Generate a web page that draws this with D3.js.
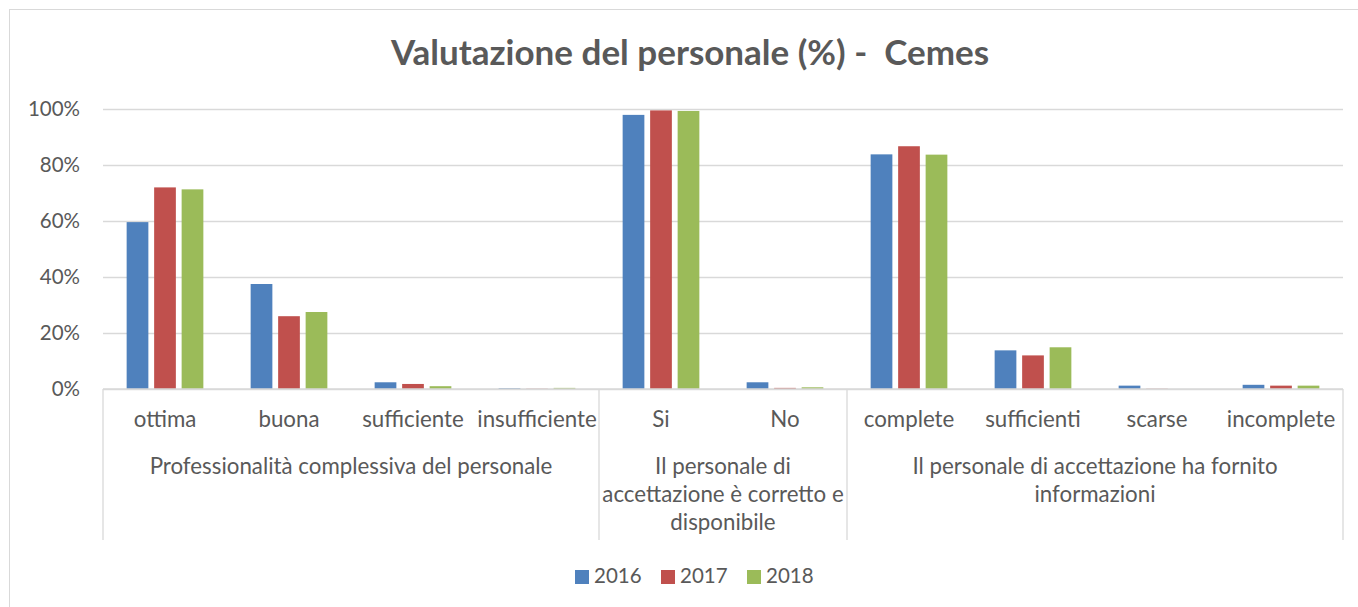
<!DOCTYPE html>
<html>
<head>
<meta charset="utf-8">
<script src="https://cdn.jsdelivr.net/npm/d3@7"></script>
<style>
  body { margin: 0; background: #fff; }
  svg { display: block; font-family: Lato, "Open Sans", sans-serif; }
</style>
</head>
<body>
<div id="chart"></div>
<script>
// data
const years = ['2016', '2017', '2018'];
const categories = ['ottima', 'buona', 'sufficiente', 'insufficiente', 'Si', 'No',
  'complete', 'sufficienti', 'scarse', 'incomplete'];
const values2016 = [59.6, 37.5, 2.4, 0.3, 97.9, 2.4, 83.8, 13.8, 1.2, 1.5];
const values2017 = [72.0, 26.0, 1.8, 0.1, 99.5, 0.4, 86.7, 12.0, 0.1, 1.2];
const values2018 = [71.3, 27.5, 1.0, 0.4, 99.3, 0.6, 83.7, 14.9, 0.0, 1.2];
const groupLabels = [
  ['Professionalità complessiva del personale'],
  ['Il personale di', 'accettazione è corretto e', 'disponibile'],
  ['Il personale di accettazione ha fornito', 'informazioni']
];
const groupSizes = [4, 2, 4];
const yTicks = [0, 20, 40, 60, 80, 100];
const title = 'Valutazione del personale (%) -  Cemes';

const colors = ['#4F81BD', '#C0504D', '#9BBB59'];
const textColor = '#595959';
const gridColor = '#D9D9D9';

const width = 1358;
const height = 607;
const plot = { left: 103, right: 1343, top: 109, bottom: 389 };
const labelSize = '22.3px';

const series = [values2016, values2017, values2018];
const rows = categories.map((c, i) => ({
  category: c,
  values: years.map((y, j) => ({ year: y, value: series[j][i] }))
}));

const svg = d3.select('#chart')
  .append('svg')
  .attr('width', width)
  .attr('height', height);

// chart area border (right / bottom edges run off the picture)
svg.append('rect')
  .attr('x', 9.5)
  .attr('y', 9.5)
  .attr('width', 1400)
  .attr('height', 700)
  .attr('fill', '#fff')
  .attr('stroke', gridColor);

svg.append('text')
  .attr('x', 690)
  .attr('y', 65)
  .attr('text-anchor', 'middle')
  .attr('fill', textColor)
  .style('font-size', '35px')
  .style('font-weight', 700)
  .style('white-space', 'pre')
  .text(title);

const x0 = d3.scaleBand()
  .domain(categories)
  .range([plot.left, plot.right])
  .padding(0);

const x1 = d3.scaleBand()
  .domain(years)
  .range([0, x0.bandwidth()])
  .paddingInner(0.21)
  .paddingOuter(0.86);

const y = d3.scaleLinear()
  .domain([0, 100])
  .range([plot.bottom, plot.top]);

const yAxis = d3.axisLeft(y)
  .tickValues(yTicks)
  .tickSize(-(plot.right - plot.left))
  .tickPadding(23)
  .tickFormat(d => d + '%');

svg.append('g')
  .attr('transform', `translate(${plot.left},0)`)
  .call(yAxis)
  .call(g => g.select('.domain').remove())
  .call(g => g.selectAll('.tick line').attr('stroke', gridColor).attr('stroke-width', 1.3))
  .call(g => g.selectAll('.tick text')
    .attr('fill', textColor)
    .style('font-size', '20.5px')
    .style('font-family', 'Lato, sans-serif'));

// bars
svg.append('g')
  .selectAll('g')
  .data(rows)
  .join('g')
  .attr('transform', d => `translate(${x0(d.category)},0)`)
  .selectAll('rect')
  .data(d => d.values)
  .join('rect')
  .attr('x', d => x1(d.year))
  .attr('y', d => y(d.value))
  .attr('width', x1.bandwidth())
  .attr('height', d => y(0) - y(d.value))
  .attr('fill', (d, i) => colors[i]);

// category axis
const xAxis = d3.axisBottom(x0).tickSize(0).tickPadding(0);

svg.append('g')
  .attr('transform', `translate(0,${plot.bottom})`)
  .call(xAxis)
  .call(g => g.select('.domain').remove())
  .call(g => g.selectAll('.tick text')
    .attr('y', 38)
    .attr('dy', 0)
    .attr('fill', textColor)
    .style('font-size', labelSize)
    .style('font-family', 'Lato, sans-serif'));

svg.append('line')
  .attr('x1', plot.left)
  .attr('x2', plot.right)
  .attr('y1', plot.bottom)
  .attr('y2', plot.bottom)
  .attr('stroke', gridColor)
  .attr('stroke-width', 1.3);

// group separators and multi-level labels
const bounds = [0];
groupSizes.forEach(n => bounds.push(bounds[bounds.length - 1] + n));
const edgeX = i => i < categories.length ? x0(categories[i]) : plot.right;

svg.append('g')
  .selectAll('line')
  .data(bounds)
  .join('line')
  .attr('x1', d => edgeX(d))
  .attr('x2', d => edgeX(d))
  .attr('y1', plot.bottom)
  .attr('y2', 540)
  .attr('stroke', gridColor)
  .attr('stroke-width', 1.3);

const groupText = svg.append('g')
  .selectAll('text')
  .data(groupLabels)
  .join('text')
  .attr('text-anchor', 'middle')
  .attr('fill', textColor)
  .style('font-size', labelSize)
  .attr('transform', (d, i) =>
    `translate(${(edgeX(bounds[i]) + edgeX(bounds[i + 1])) / 2},474)`);

groupText.selectAll('tspan')
  .data(d => d)
  .join('tspan')
  .attr('x', 0)
  .attr('y', (d, i) => i * 28)
  .text(d => d);

// legend
const legendItemX = [575, 661, 747];
const legend = svg.append('g')
  .selectAll('g')
  .data(years)
  .join('g')
  .attr('transform', (d, i) => `translate(${legendItemX[i]},570)`);

legend.append('rect')
  .attr('width', 14)
  .attr('height', 14)
  .attr('fill', (d, i) => colors[i]);

legend.append('text')
  .attr('x', 19)
  .attr('y', 13)
  .attr('fill', textColor)
  .style('font-size', '20.5px')
  .text(d => d);
</script>
</body>
</html>
